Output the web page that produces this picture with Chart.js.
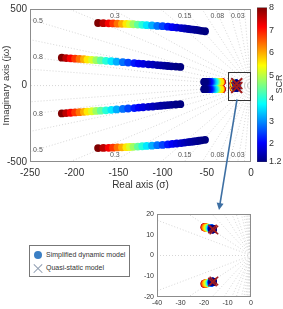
<!DOCTYPE html>
<html>
<head>
<meta charset="utf-8">
<script src="https://cdn.jsdelivr.net/npm/chart.js@4.4.0/dist/chart.umd.min.js"></script>
<style>
  html, body { margin: 0; padding: 0; background: #fff; }
  #wrap { position: relative; width: 283px; height: 309px; overflow: hidden; font-family: "Liberation Sans", Arial, sans-serif; }
  canvas { position: absolute; }
  #main { left: 0; top: 0; }
  #cbar { left: 250px; top: 0; }
  #inset { left: 143px; top: 205px; }
  #legend { position: absolute; left: 29px; top: 245px; width: 99px; height: 30px; border: 1px solid #777; background: #fff; font-size: 7px; color: #333; }
  #legend .item { position: absolute; left: 16px; height: 10px; line-height: 10px; white-space: nowrap; }
  #legend .dot { position: absolute; left: -12px; top: 1px; width: 8px; height: 8px; border-radius: 50%; background: #3b7fc4; }
  #legend .cross { position: absolute; left: -13px; top: 0; width: 10px; height: 10px; }
  #legend .cross::before, #legend .cross::after { content: ""; position: absolute; left: -1px; top: 4.5px; width: 12px; height: 1.2px; background: #8e9cb0; }
  #legend .cross::before { transform: rotate(45deg); }
  #legend .cross::after { transform: rotate(-45deg); }
</style>
</head>
<body>
<div id="wrap">
  <canvas id="main" width="283" height="309"></canvas>
  <canvas id="cbar" width="33" height="185"></canvas>
  <canvas id="inset" width="140" height="104"></canvas>
  <div id="legend">
    <div class="item" style="top:4px"><span class="dot"></span>Simplified dynamic model</div>
    <div class="item" style="top:17px"><span class="cross"></span>Quasi-static model</div>
  </div>
</div>
<script>
// SCR sweep used for every eigenvalue branch (colour = SCR)
const scrLevels = [8.0, 7.6, 7.2, 6.8, 6.4, 6.0, 5.6, 5.2, 4.8, 4.4, 4.0, 3.6, 3.2, 2.8, 2.5, 2.2, 2.0, 1.85, 1.7, 1.6, 1.5, 1.45, 1.4, 1.35, 1.3, 1.25, 1.2];
const scrMin = 1.2;
const scrMax = 8;

// upper branch (around 400 rad/s)
const upperRe = [-173, -167, -161, -156, -151, -146, -141, -137, -133, -128, -123, -118, -112, -106, -100, -94, -89, -84, -79, -75, -71, -68, -65, -62, -59, -56, -52];
const upperIm = [409, 408, 407, 406, 405, 404, 403, 402, 401, 399, 397, 395, 393, 390, 388, 385, 382, 379, 376, 373, 370, 368, 366, 364, 361, 358, 355];

// middle branch (around 150 rad/s)
const midRe = [-214, -209, -204, -199, -194, -189, -185, -180, -175, -170, -164, -158, -152, -145, -139, -132, -127, -122, -116, -111, -106, -102, -98, -94, -90, -85, -80];
const midIm = [182, 180, 178, 176, 174, 172, 170, 168, 166, 164, 162, 159, 156, 153, 150, 147, 144, 142, 139, 137, 134, 132, 130, 128, 126, 124, 122];

// branch close to the real axis
const axisRe = [-33, -33, -33.5, -34, -34, -34.5, -35, -38, -39, -40, -41, -42, -43.5, -45, -46, -47, -48, -49, -49.5, -50, -50.5, -51, -51.5, -52, -52, -52.5, -53];
const axisIm = [24, 24, 24, 24, 24, 24, 24, 24, 24, 24, 24, 24, 24, 24, 24, 24, 24, 24, 24, 24, 24, 24, 24, 24, 24, 24, 24];

// slow branch (zoomed in the inset)
const slowRe = [-19.8, -19.7, -19.6, -19.5, -19.3, -19.0, -18.6, -18.2, -17.9, -17.6, -17.4, -17.2, -17.0, -16.9, -16.8, -16.7, -16.6, -16.6, -16.5, -16.5, -16.4, -16.4, -16.4, -16.3, -16.3, -16.3, -16.2];
const slowIm = [13.6, 13.6, 13.6, 13.5, 13.5, 13.5, 13.4, 13.4, 13.3, 13.3, 13.2, 13.2, 13.1, 13.0, 13.0, 12.9, 12.9, 12.8, 12.8, 12.8, 12.7, 12.7, 12.7, 12.7, 12.6, 12.6, 12.6];

// quasi-static model poles
const quasiRe = [-16.4, -15.8];
const quasiIm = [12.8, 12.3];

// damping grid
const dampLabeled = [0.03, 0.08, 0.15, 0.3, 0.5, 0.8];
const dampExtra = [0.015, 0.05, 0.11, 0.2, 0.38, 0.64, 0.92];
const sideDamp = [0.5, 0.8];
const topDamp = [0.03, 0.08, 0.15, 0.3];
const topDampX = [-15, -38, -75, -154];

// tick labels
const mainXTicks = [-250, -200, -150, -100, -50, 0];
const mainYTicks = [-500, 0, 500];
const insetXTicks = [-40, -30, -20, -10, 0];
const insetYTicks = [-20, -10, 0, 10, 20];
const cbarTicks = [1.2, 2, 3, 4, 5, 6, 7, 8];

const FONT = '"Liberation Sans", Arial, sans-serif';

function jet(s) {
    const t = (s - scrMin) / (scrMax - scrMin);
    const f = v => Math.round(255 * Math.max(0, Math.min(1, 1.5 - Math.abs(4 * t - v))));
    return `rgb(${f(3)}, ${f(2)}, ${f(1)})`;
}

function branch(re, im, sign, radius) {
    return {
        data: re.map((x, i) => ({ x: x, y: sign * im[i], s: scrLevels[i] })),
        backgroundColor: c => c.raw ? jet(c.raw.s) : '#000',
        pointRadius: radius,
        borderWidth: 0,
        clip: 0,
        order: 2
    };
}

function buildDatasets(dotR, crossR) {
    const sets = [];
    // damping lines
    dampLabeled.concat(dampExtra).forEach(z => {
        const k = Math.sqrt(1 - z * z);
        [1, -1].forEach(sg => {
            sets.push({
                data: [{ x: 0, y: 0 }, { x: -1000 * z, y: sg * 1000 * k }],
                showLine: true, pointRadius: 0, borderColor: '#c4c4c4',
                borderWidth: 0.7, borderDash: [1, 2], clip: 0, order: 10
            });
        });
    });
    sets.push({
        data: [{ x: 0, y: 0 }, { x: -1000, y: 0 }],
        showLine: true, pointRadius: 0, borderColor: '#c4c4c4',
        borderWidth: 0.7, borderDash: [1, 2], clip: 0, order: 10
    });
    [1, -1].forEach(sg => {
        sets.push(branch(upperRe, upperIm, sg, dotR));
        sets.push(branch(midRe, midIm, sg, dotR));
        sets.push(branch(axisRe, axisIm, sg, dotR));
        sets.push(branch(slowRe, slowIm, sg, dotR));
    });
    // quasi-static poles
    sets.push({
        data: quasiRe.flatMap((x, i) => [{ x: x, y: quasiIm[i] }, { x: x, y: -quasiIm[i] }]),
        pointStyle: 'crossRot', pointRadius: crossR, borderColor: '#a11d1d',
        borderWidth: 1.6, backgroundColor: '#a11d1d', order: 0
    });
    return sets;
}

function fixedTicks(list) {
    return s => { s.ticks = list.map(v => ({ value: v })); };
}

function frame(chart, color) {
    const { ctx, chartArea: a } = chart;
    ctx.strokeStyle = color;
    ctx.lineWidth = 1;
    ctx.setLineDash([]);
    ctx.strokeRect(Math.round(a.left) + 0.5, Math.round(a.top) + 0.5, Math.round(a.width) - 1, Math.round(a.height) - 1);
}

const mainOverlay = {
    id: 'mainOverlay',
    afterDatasetsDraw(chart) {
        const { ctx, scales: { x, y } } = chart;
        ctx.save();
        // damping ratio labels
        ctx.font = '7px ' + FONT;
        ctx.fillStyle = '#555';
        ctx.textAlign = 'center';
        ctx.textBaseline = 'middle';
        sideDamp.forEach(z => {
            const k = Math.sqrt(1 - z * z) / z;
            [1, -1].forEach(sg => ctx.fillText(String(z), x.getPixelForValue(-241), y.getPixelForValue(sg * (k * 241 + 6))));
        });
        topDamp.forEach((z, i) => {
            [1, -1].forEach(sg => ctx.fillText(String(z), x.getPixelForValue(topDampX[i]), y.getPixelForValue(sg * 455)));
        });
        frame(chart, '#8c8c8c');
        // zoom box
        const bx0 = x.getPixelForValue(-26), bx1 = x.getPixelForValue(0);
        const by0 = y.getPixelForValue(90), by1 = y.getPixelForValue(-90);
        ctx.strokeStyle = '#333';
        ctx.lineWidth = 1;
        ctx.strokeRect(Math.round(bx0) + 0.5, Math.round(by0) + 0.5, Math.round(bx1 - bx0) - 1, Math.round(by1 - by0));
        // arrow to the inset
        const x0 = 237, y0 = by1, x1 = 219, y1 = 210;
        const ang = Math.atan2(y1 - y0, x1 - x0);
        ctx.strokeStyle = '#3d6fa3';
        ctx.fillStyle = '#3d6fa3';
        ctx.lineWidth = 1.6;
        ctx.beginPath();
        ctx.moveTo(x0, y0);
        ctx.lineTo(x1 - 5 * Math.cos(ang), y1 - 5 * Math.sin(ang));
        ctx.stroke();
        ctx.beginPath();
        ctx.moveTo(x1, y1);
        ctx.lineTo(x1 - 7 * Math.cos(ang) + 3.5 * Math.sin(ang), y1 - 7 * Math.sin(ang) - 3.5 * Math.cos(ang));
        ctx.lineTo(x1 - 7 * Math.cos(ang) - 3.5 * Math.sin(ang), y1 - 7 * Math.sin(ang) + 3.5 * Math.cos(ang));
        ctx.closePath();
        ctx.fill();
        ctx.restore();
    }
};

const insetOverlay = {
    id: 'insetOverlay',
    afterDatasetsDraw(chart) {
        chart.ctx.save();
        frame(chart, '#8c8c8c');
        chart.ctx.restore();
    }
};

// main pole map
new Chart(document.getElementById('main'), {
    type: 'scatter',
    data: { datasets: buildDatasets(3.9, 7.5) },
    options: {
        responsive: false,
        animation: false,
        layout: { padding: { left: 0, right: 32, top: 5, bottom: 114 } },
        plugins: { legend: { display: false }, tooltip: { enabled: false } },
        scales: {
            x: {
                type: 'linear', min: -250, max: 0,
                afterBuildTicks: fixedTicks(mainXTicks),
                ticks: { font: { family: FONT, size: 10 }, color: '#333', padding: 5, maxRotation: 0 },
                grid: { display: false, drawTicks: false }, border: { display: false },
                title: { display: true, text: 'Real axis (σ)', font: { family: FONT, size: 10 }, color: '#333', padding: { top: 2, bottom: 4 } },
                afterFit: s => { s.height = 33; }
            },
            y: {
                type: 'linear', min: -500, max: 500,
                afterBuildTicks: fixedTicks(mainYTicks),
                ticks: { font: { family: FONT, size: 10 }, color: '#333', padding: 3 },
                grid: { display: false, drawTicks: false }, border: { display: false },
                title: { display: true, text: 'Imaginary axis (jω)', font: { family: FONT, size: 9.5 }, color: '#333', padding: { top: 1, bottom: 0 } },
                afterFit: s => { s.width = 30; }
            }
        }
    },
    plugins: [mainOverlay]
});

// colour bar (SCR)
new Chart(document.getElementById('cbar'), {
    type: 'bar',
    data: {
        labels: ['SCR'],
        datasets: [{
            data: [[scrMin, scrMax]],
            backgroundColor: c => {
                const { ctx, chartArea } = c.chart;
                if (!chartArea) return '#888';
                const g = ctx.createLinearGradient(0, chartArea.bottom, 0, chartArea.top);
                g.addColorStop(0, 'rgb(0,0,128)');
                g.addColorStop(0.125, 'rgb(0,0,255)');
                g.addColorStop(0.375, 'rgb(0,255,255)');
                g.addColorStop(0.625, 'rgb(255,255,0)');
                g.addColorStop(0.875, 'rgb(255,0,0)');
                g.addColorStop(1, 'rgb(128,0,0)');
                return g;
            },
            borderColor: '#555',
            borderWidth: 0.6,
            borderSkipped: false,
            barPercentage: 1,
            categoryPercentage: 1
        }]
    },
    options: {
        responsive: false,
        animation: false,
        layout: { padding: { left: 7, right: 0, top: 5, bottom: 23 } },
        plugins: { legend: { display: false }, tooltip: { enabled: false } },
        scales: {
            x: { display: false },
            y: {
                position: 'right', min: scrMin, max: scrMax,
                afterBuildTicks: fixedTicks(cbarTicks),
                ticks: { font: { family: FONT, size: 9 }, color: '#333', padding: 2 },
                grid: { display: false, drawTicks: false }, border: { display: false },
                afterFit: s => { s.width = 16; }
            }
        }
    },
    plugins: [{
        id: 'scrTitle',
        afterDraw(chart) {
            const ctx = chart.ctx;
            ctx.save();
            ctx.translate(29.5, 84);
            ctx.rotate(-Math.PI / 2);
            ctx.font = '9px ' + FONT;
            ctx.fillStyle = '#333';
            ctx.textAlign = 'center';
            ctx.textBaseline = 'middle';
            ctx.fillText('SCR', 0, 0);
            ctx.restore();
        }
    }]
});

// zoomed inset
new Chart(document.getElementById('inset'), {
    type: 'scatter',
    data: { datasets: buildDatasets(4, 6) },
    options: {
        responsive: false,
        animation: false,
        layout: { padding: { left: 0, right: 32, top: 9, bottom: 0 } },
        plugins: { legend: { display: false }, tooltip: { enabled: false } },
        scales: {
            x: {
                type: 'linear', min: -40, max: 0,
                afterBuildTicks: fixedTicks(insetXTicks),
                ticks: { font: { family: FONT, size: 7 }, color: '#333', padding: 2, maxRotation: 0 },
                grid: { display: false, drawTicks: false }, border: { display: false },
                afterFit: s => { s.height = 12; }
            },
            y: {
                type: 'linear', min: -20, max: 20,
                afterBuildTicks: fixedTicks(insetYTicks),
                ticks: { font: { family: FONT, size: 7 }, color: '#333', padding: 3 },
                grid: { display: false, drawTicks: false }, border: { display: false },
                afterFit: s => { s.width = 14; }
            }
        }
    },
    plugins: [insetOverlay]
});
</script>
</body>
</html>
